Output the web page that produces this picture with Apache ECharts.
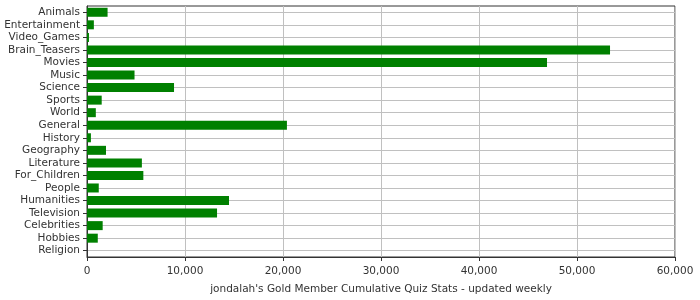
<!DOCTYPE html>
<html><head><meta charset="utf-8">
<script src="https://cdn.jsdelivr.net/npm/echarts@6/dist/echarts.min.js"></script>
<style>html,body{margin:0;padding:0;background:#fff}#c{width:700px;height:300px}</style>
</head><body><div id="c"></div>
<script>
const categories = ["Animals","Entertainment","Video_Games","Brain_Teasers","Movies","Music","Science","Sports","World","General","History","Geography","Literature","For_Children","People","Humanities","Television","Celebrities","Hobbies","Religion"];
const values = [2100, 700, 200, 53370, 46940, 4850, 8880, 1500, 900, 20400, 400, 1940, 5600, 5750, 1200, 14490, 13270, 1600, 1100, 0];
const xTicks = [0, 10000, 20000, 30000, 40000, 50000, 60000];
const axisTitle = "jondalah's Gold Member Cumulative Quiz Stats - updated weekly";

const chart = echarts.init(document.getElementById('c'), null, {renderer: 'canvas'});
const font = 'DejaVu Sans';
chart.setOption({
  animation: false,
  grid: {left: 87, right: 25, top: 6, bottom: 41, show: true, borderColor: '#333', borderWidth: 1, backgroundColor: 'transparent'},
  xAxis: {
    type: 'value', min: xTicks[0], max: xTicks[xTicks.length-1], interval: 10000,
    name: axisTitle, nameLocation: 'middle', nameGap: 27,
    nameTextStyle: {fontFamily: font, fontSize: 10.5, color: '#333'},
    axisLine: {show: true, lineStyle: {color: '#333', width: 1}},
    axisTick: {show: true, length: 4, lineStyle: {color: '#333'}},
    axisLabel: {fontFamily: font, fontSize: 10.5, color: '#333', margin: 9,
      formatter: v => v.toLocaleString('en-US')},
    splitLine: {show: true, lineStyle: {color: '#c0c0c0', width: 1}}
  },
  yAxis: {
    type: 'category', data: categories, inverse: true,
    axisLine: {show: true, lineStyle: {color: '#333', width: 1}},
    axisTick: {show: true, interval: 0, alignWithLabel: true, length: 4, lineStyle: {color: '#333'}},
    axisLabel: {interval: 0, fontFamily: font, fontSize: 10.5, color: '#333', margin: 7},
    splitLine: {show: true, interval: 0, alignWithLabel: true, lineStyle: {color: '#c0c0c0', width: 1}}
  },
  series: [{
    type: 'bar', data: values, barWidth: 9,
    itemStyle: {color: '#008000'}
  }]
});
</script></body></html>
